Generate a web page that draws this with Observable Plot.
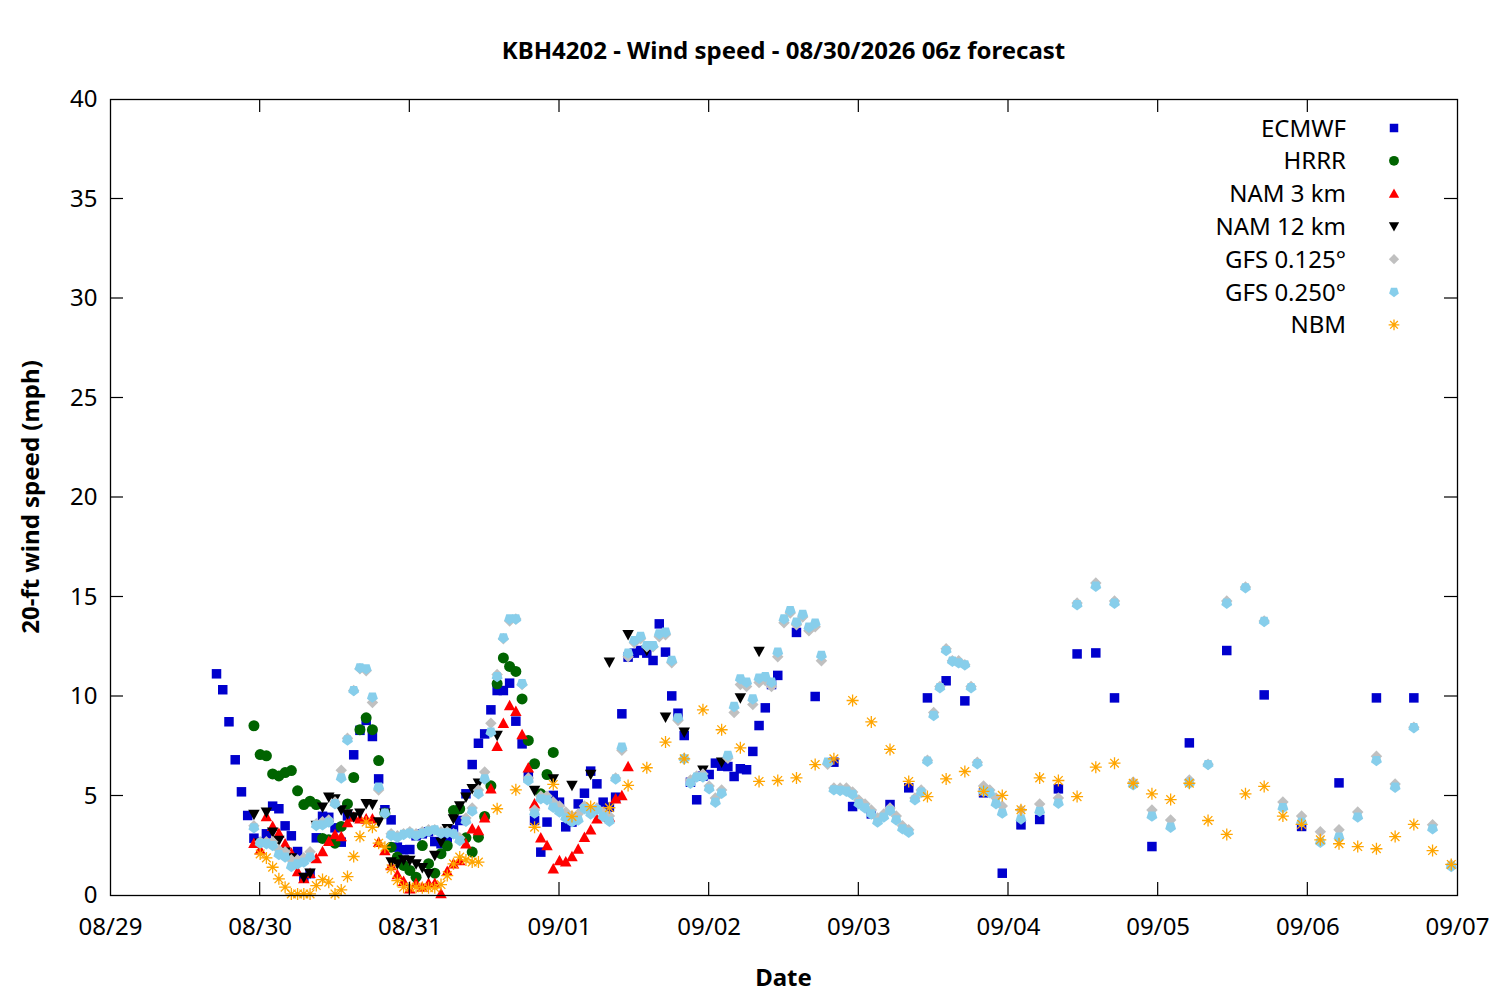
<!DOCTYPE html>
<html><head><meta charset="utf-8">
<script src="https://cdn.jsdelivr.net/npm/d3@7"></script>
<script src="https://cdn.jsdelivr.net/npm/@observablehq/plot@0.6"></script>
<style>
body{margin:0;background:#fff;}
#chart svg{display:block;}
</style></head><body><div id="chart"></div>
<script>
// ---------- axis tick labels ----------
const dayTicks = ["08/29","08/30","08/31","09/01","09/02","09/03","09/04","09/05","09/06","09/07"];
const yTicks = [0,5,10,15,20,25,30,35,40];
const titleText = "KBH4202 - Wind speed - 08/30/2026 06z forecast";
const yLabel = "20-ft wind speed (mph)";
const xLabel = "Date";

// ---------- series names & colours ----------
const seriesNames = ["ECMWF","HRRR","NAM 3 km","NAM 12 km","GFS 0.125°","GFS 0.250°","NBM"];
const seriesColors = ["#0000cd","#006400","#ff0000","#000000","#c0c0c0","#87ceeb","#ffa500"];

// valid times: hours after 08/29 00:00 local, following each model's output schedule
function hours(start, end, step) { const a = []; for (let h = start; h <= end; h += step) a.push(h); return a; }

// ---------- ECMWF ----------
const ecmwfHours = [...hours(17,107,1), ...hours(110,161,3), ...hours(167,209,6)];
const ecmwfSpeed = [
 11.14,10.34,8.73,6.82,5.21,4.02,2.88,2.7,3.10,4.49,
 4.36,3.50,3.00,2.21,0.9,1.1,2.9,3.98,3.93,3.4,
 2.68,4.0,7.07,8.3,8.8,7.99,5.86,4.31,3.80,2.43,
 2.3,2.31,3.0,3.1,3.2,2.71,2.6,2.9,3.3,3.77,
 5.11,6.58,7.65,8.12,9.33,10.3,10.3,10.67,8.76,7.62,
 6.0,3.77,2.18,3.69,5.03,4.69,3.45,3.69,4.6,5.14,
 6.25,5.61,4.69,4.44,4.94,9.13,11.98,12.18,12.31,12.18,
 11.81,13.65,12.23,10.03,9.16,8.04,5.69,4.81,6.0,6.08,
 6.65,6.5,6.48,5.98,6.37,6.32,7.24,8.54,9.43,10.6,
 11.06,
 13.22,10.0,6.7,4.47,4.1,4.57,5.41,9.93,10.79,9.78,5.16,1.12,3.55,3.82,5.36,12.14,12.19,9.93,
 2.46,7.67,12.31,10.08,3.47,5.66,9.93,9.93];

// ---------- HRRR ----------
const hrrrHours = hours(23,71,1);
const hrrrSpeed = [
 8.53,7.08,7.02,6.11,6.01,6.18,6.28,5.26,4.57,4.74,
 4.57,2.87,2.8,2.63,3.47,4.6,5.93,8.33,8.93,8.33,
 6.78,4.14,2.43,1.93,1.51,1.26,0.92,2.51,1.6,1.12,
 2.1,2.5,4.27,4.36,2.9,2.18,2.93,3.97,5.51,10.64,
 11.94,11.51,11.26,9.88,7.79,6.62,5.11,6.08,7.19];

// ---------- NAM 3 km ----------
const nam3Hours = hours(23,83,1);
const nam3Speed = [
 2.63,2.3,3.97,3.48,3.13,2.6,2.13,1.2,0.85,1.12,
 1.86,2.21,2.73,3.07,2.96,3.67,3.94,3.85,3.85,3.85,
 2.68,2.26,1.51,1.06,0.72,0.34,0.62,0.42,0.62,0.62,
 0.1,1.22,1.59,1.76,2.6,3.35,3.27,3.9,5.36,7.5,
 8.66,9.55,9.26,8.09,6.42,4.61,2.9,2.51,1.34,1.76,
 1.7,1.96,2.34,2.93,3.3,3.85,4.1,3.94,4.86,5.03,
 6.48];

// ---------- NAM 12 km ----------
const nam12Hours = [...hours(23,59,1), 62,68,71,74,77,80,83,86,89,92,95,98,101,104];
const nam12Speed = [
 4.07,2.63,4.19,3.18,2.76,2.18,1.89,1.59,0.9,1.12,
 3.52,4.44,4.94,4.85,4.3,4.1,3.94,4.14,4.61,4.57,
 3.69,4.14,1.68,1.59,1.79,1.76,1.59,1.4,1.09,2.01,
 2.68,3.35,3.85,4.5,4.94,5.36,5.64,
 8.04,5.28,5.86,5.53,6.08,11.72,13.1,12.31,8.96,8.21,6.3,6.7,9.93,12.26];

// ---------- GFS 0.125° ----------
const gfs125Hours = [...hours(23,143,1), ...hours(146,215,3)];
const gfs125Speed = [
 3.5,2.7,2.7,2.7,2.3,2.2,1.8,1.8,1.9,2.2,
 3.6,3.7,3.8,4.7,6.3,7.9,10.3,11.4,11.3,9.7,
 5.3,4.1,3.1,3.0,3.1,3.2,3.1,3.2,3.3,3.3,
 3.2,3.2,3.1,2.9,3.9,4.4,5.3,6.2,8.66,11.1,
 12.9,13.8,13.9,10.6,5.9,4.3,5.0,5.0,4.7,4.5,
 4.2,4.0,4.1,4.5,4.3,4.4,4.2,4.0,5.9,7.3,
 12.0,12.7,12.9,12.5,12.5,13.0,13.1,11.7,8.8,6.9,
 5.8,6.0,6.1,5.5,4.9,5.3,6.9,9.2,10.6,10.5,
 9.6,10.7,10.8,10.5,12.0,13.7,14.2,13.6,14.0,13.3,
 13.5,11.8,6.6,5.4,5.4,5.4,5.2,4.8,4.6,4.3,
 3.9,4.1,4.4,4.0,3.5,3.3,4.9,5.3,6.8,9.2,
 10.5,12.4,11.8,11.8,11.6,10.5,6.7,5.5,5.3,4.9,
 4.5,
 4.3,4.6,4.9,14.7,15.7,14.8,5.7,4.3,3.8,5.8,6.6,14.8,15.5,13.8,4.7,4.0,3.2,3.3,4.2,7.0,5.6,8.45,3.55,1.55];

// ---------- GFS 0.250° ----------
const gfs250Hours = [...hours(23,143,1), ...hours(146,215,3)];
const gfs250Speed = [
 3.4,2.63,2.6,2.51,2.06,1.93,1.46,1.59,1.68,1.93,
 3.52,3.55,3.69,4.61,5.91,7.82,10.3,11.44,11.39,9.97,
 5.44,4.14,3.02,2.93,3.07,3.13,3.02,3.13,3.23,3.3,
 3.13,3.15,3.1,2.76,3.73,4.24,5.11,5.86,8.21,11.0,
 12.95,13.9,13.9,10.64,5.78,4.14,4.86,4.81,4.44,4.2,
 3.9,3.7,3.8,4.36,4.1,4.31,3.97,3.73,5.86,7.45,
 12.18,12.81,13.02,12.56,12.56,13.15,13.23,11.81,8.93,6.87,
 5.64,5.95,5.95,5.36,4.69,5.14,7.04,9.5,10.89,10.72,
 9.88,10.92,11.0,10.72,12.23,13.9,14.32,13.73,14.12,13.48,
 13.68,12.06,6.7,5.31,5.28,5.24,5.08,4.61,4.4,4.1,
 3.69,3.94,4.27,3.8,3.35,3.18,4.81,5.19,6.75,9.05,
 10.44,12.31,11.77,11.69,11.59,10.44,6.62,5.24,5.16,4.61,
 4.14,
 3.85,4.23,4.64,14.61,15.54,14.69,5.56,3.99,3.43,5.64,6.58,14.69,15.46,13.77,4.41,3.69,2.68,2.93,3.94,6.78,5.44,8.43,3.35,1.46];

// ---------- NBM ----------
const nbmHours = [...hours(24,59,1), ...hours(62,215,3)];
const nbmSpeed = [
 2.09,1.89,1.42,0.84,0.42,0.08,0.08,0.08,0.08,0.5,
 0.8,0.67,0.08,0.28,0.95,1.96,2.96,3.69,3.43,2.63,
 2.43,1.34,0.75,0.42,0.42,0.42,0.39,0.39,0.39,0.55,
 1.0,1.59,1.93,1.79,1.68,1.68,
 4.36,5.31,3.43,5.58,3.97,4.47,4.41,5.53,6.42,7.71,
 6.87,9.33,8.33,7.42,5.73,5.78,5.91,6.58,6.87,9.8,
 8.72,7.34,5.73,4.97,5.86,6.23,5.23,5.03,4.31,5.91,
 5.78,4.97,6.45,6.65,5.64,5.11,4.82,5.64,3.77,3.07,
 5.11,5.48,3.99,3.57,2.8,2.6,2.46,2.35,2.96,3.57,
 2.26,1.56];

// ---------- build ----------
const parseDay = d3.utcParse("%m/%d/%Y");
const dayDates = dayTicks.map(t => parseDay(t + "/2026"));
const base = dayDates[0].getTime();
const toRows = (hrs, vals) => hrs.map((h, i) => ({t: new Date(base + h * 3600e3), v: vals[i]}));

// marker shapes (gnuplot-like)
const rad = size => Math.sqrt(size / Math.PI);
const symSquare = {draw(c, size){ const s = rad(size) * 0.95; c.moveTo(-s,-s); c.lineTo(s,-s); c.lineTo(s,s); c.lineTo(-s,s); c.closePath(); }};
const symCircle = {draw(c, size){ const r = rad(size) * 1.1; c.moveTo(r,0); c.arc(0,0,r,0,2*Math.PI); }};
const symTriUp = {draw(c, size){ const r = rad(size); const w = r*1.15, h = r*1.05; c.moveTo(0,-h*1.1); c.lineTo(w,h*0.9); c.lineTo(-w,h*0.9); c.closePath(); }};
const symTriDown = {draw(c, size){ const r = rad(size); const w = r*1.15, h = r*1.05; c.moveTo(0,h*1.1); c.lineTo(w,-h*0.9); c.lineTo(-w,-h*0.9); c.closePath(); }};
const symDiamond = {draw(c, size){ const r = rad(size) * 1.15; c.moveTo(0,-r); c.lineTo(r,0); c.lineTo(0,r); c.lineTo(-r,0); c.closePath(); }};
const symPentagon = {draw(c, size){ const R = rad(size) * 1.15; for (let k = 0; k < 5; k++){ const a = Math.PI/2 + k*2*Math.PI/5; const x = R*Math.cos(a), y = R*Math.sin(a); if (k) c.lineTo(x,y); else c.moveTo(x,y);} c.closePath(); }};
const symStar = {draw(c, size){ const a = rad(size) * 1.2, b = a * 0.72; c.moveTo(-a,0); c.lineTo(a,0); c.moveTo(0,-a); c.lineTo(0,a); c.moveTo(-b,-b); c.lineTo(b,b); c.moveTo(-b,b); c.lineTo(b,-b); }};

const seriesData = [
  toRows(ecmwfHours, ecmwfSpeed),
  toRows(hrrrHours, hrrrSpeed),
  toRows(nam3Hours, nam3Speed),
  toRows(nam12Hours, nam12Speed),
  toRows(gfs125Hours, gfs125Speed),
  toRows(gfs250Hours, gfs250Speed),
  toRows(nbmHours, nbmSpeed)
];
const seriesSymbols = [symSquare, symCircle, symTriUp, symTriDown, symDiamond, symPentagon, symStar];

const FONT = "'Noto Sans', 'Open Sans', sans-serif";
const FS = 24;

const dotMarks = seriesData.map((rows, i) => {
  const star = seriesSymbols[i] === symStar;
  return Plot.dot(rows, {
    x: "t", y: "v", r: 5, symbol: seriesSymbols[i],
    fill: star ? "none" : seriesColors[i],
    stroke: star ? seriesColors[i] : "none",
    strokeWidth: star ? 1.3 : 0
  });
});

const plot = Plot.plot({
  width: 1500, height: 1000,
  marginLeft: 110, marginRight: 43, marginTop: 99, marginBottom: 105,
  style: {fontFamily: FONT, fontSize: FS + "px", background: "#fff", color: "#000"},
  x: {type: "utc", domain: [dayDates[0], dayDates[dayDates.length - 1]]},
  y: {domain: [0, 40]},
  marks: [
    ...dotMarks,
    Plot.frame({stroke: "#000", strokeWidth: 1.3}),
    Plot.axisY(yTicks, {anchor: "left", tickSize: 0, tickPadding: 13, fontSize: FS, label: null}),
    Plot.axisX(dayDates, {anchor: "bottom", tickSize: 0, tickPadding: 22, fontSize: FS, label: null,
      tickFormat: (d, i) => dayTicks[i]})
  ]
});

document.getElementById("chart").appendChild(plot);

// inward ticks on all four sides, positioned with the plot's own scales
const xs = plot.scale("x"), ys = plot.scale("y");
const svg = d3.select(plot);
const yBottom = ys.apply(0), yTop = ys.apply(40);
const xLeft = xs.apply(dayDates[0]), xRight = xs.apply(dayDates[dayDates.length - 1]);
const tg = svg.append("g").attr("stroke", "#000").attr("stroke-width", 1.2);
const TL = 13;
dayDates.slice(1, -1).forEach(d => {
  const px = xs.apply(d);
  tg.append("line").attr("x1", px).attr("x2", px).attr("y1", yBottom).attr("y2", yBottom - TL);
  tg.append("line").attr("x1", px).attr("x2", px).attr("y1", yTop).attr("y2", yTop + TL);
});
yTicks.slice(1, -1).forEach(v => {
  const py = ys.apply(v);
  tg.append("line").attr("x1", xLeft).attr("x2", xLeft + TL).attr("y1", py).attr("y2", py);
  tg.append("line").attr("x1", xRight).attr("x2", xRight - TL).attr("y1", py).attr("y2", py);
});

// title and axis labels
const cx = (xLeft + xRight) / 2, cy = (yTop + yBottom) / 2;
svg.append("text").attr("x", cx).attr("y", yTop - 40.5).attr("text-anchor", "middle")
  .attr("font-family", FONT).attr("font-size", FS).attr("font-weight", "bold").attr("fill", "#000").text(titleText);
svg.append("text").attr("x", cx).attr("y", yBottom + 90.5).attr("text-anchor", "middle")
  .attr("font-family", FONT).attr("font-size", FS).attr("font-weight", "bold").attr("fill", "#000").text(xLabel);
svg.append("text").attr("transform", `translate(${xLeft - 71.5},${cy}) rotate(-90)`).attr("text-anchor", "middle")
  .attr("font-family", FONT).attr("font-size", FS).attr("font-weight", "bold").attr("fill", "#000").text(yLabel);

// legend (top right, inside the frame)
const lg = svg.append("g");
seriesNames.forEach((name, i) => {
  const ly = yTop + 29 + i * 32.8;
  lg.append("text").attr("x", xRight - 111).attr("y", ly + 8.5).attr("text-anchor", "end")
    .attr("font-family", FONT).attr("font-size", FS).attr("fill", "#000").text(name);
  const star = seriesSymbols[i] === symStar;
  lg.append("path").attr("transform", `translate(${xRight - 63},${ly})`)
    .attr("d", d3.symbol(seriesSymbols[i], 20 * Math.PI)())
    .attr("fill", star ? "none" : seriesColors[i])
    .attr("stroke", star ? seriesColors[i] : "none")
    .attr("stroke-width", star ? 1.3 : 0);
});
</script>
</body></html>
